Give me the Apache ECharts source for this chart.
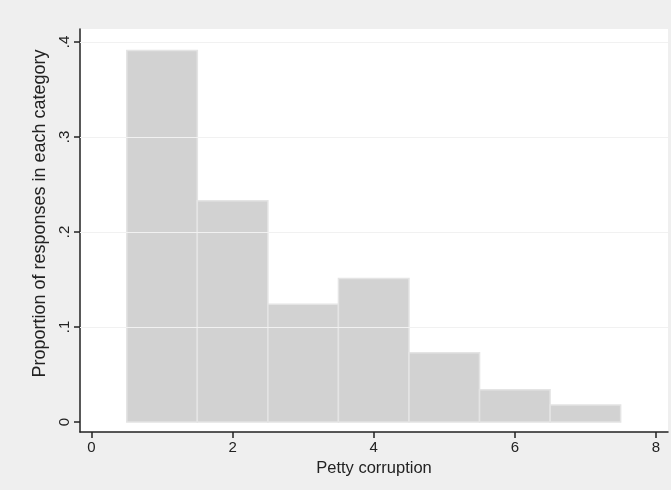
<!DOCTYPE html>
<html>
<head>
<meta charset="utf-8">
<script src="https://cdn.jsdelivr.net/npm/echarts@6/dist/echarts.min.js"></script>
<style>
  html, body { margin: 0; padding: 0; background: #efefef; }
  #main { width: 671px; height: 490px; }
</style>
</head>
<body>
<div id="main"></div>
<script>
// bins of the histogram (centre of each category) and their proportions
var categories = [1, 2, 3, 4, 5, 6, 7]
var proportions = [0.391, 0.233, 0.124, 0.151, 0.073, 0.034, 0.018]
var xTicks = [0, 2, 4, 6, 8]
var yTicks = [0, 0.1, 0.2, 0.3, 0.4]

var barData = categories.map(function (c, i) { return [c, proportions[i]] })

var chart = echarts.init(document.getElementById('main'))

var textColor = '#222'
var font = 'Liberation Sans, Arial, sans-serif'

chart.setOption({
  backgroundColor: '#efefef',
  animation: false,
  grid: {
    left: 80, right: 3, top: 29, bottom: 58,
    show: true, backgroundColor: '#ffffff', borderWidth: 0
  },
  xAxis: {
    type: 'value',
    min: -0.163, max: 8.171,
    name: 'Petty corruption',
    nameLocation: 'middle',
    nameGap: 28,
    nameTextStyle: { color: textColor, fontSize: 16.5, fontFamily: font },
    axisLine: { show: true, onZero: false, lineStyle: { color: '#222', width: 1.5 } },
    axisTick: { show: true, inside: false, length: 6, customValues: xTicks, lineStyle: { color: '#222', width: 1.5 } },
    axisLabel: { customValues: xTicks, color: textColor, fontSize: 15, fontFamily: font, margin: 8 },
    splitLine: { show: false }
  },
  yAxis: {
    type: 'value',
    min: -0.0105, max: 0.4137,
    name: 'Proportion of responses in each category',
    nameLocation: 'middle',
    nameGap: 30,
    // shift the title a little upwards, as in the original
    nameTextStyle: { color: textColor, fontSize: 18, fontFamily: font, padding: [0, 0, 0, 34] },
    axisLine: { show: true, onZero: false, lineStyle: { color: '#222', width: 1.5 } },
    axisTick: { show: true, inside: false, length: 6, customValues: yTicks, lineStyle: { color: '#222', width: 1.5 } },
    axisLabel: {
      customValues: yTicks, rotate: 90, color: textColor, fontSize: 15, fontFamily: font, margin: 8,
      formatter: function (v) { return v === 0 ? '0' : String(+v.toFixed(1)).replace(/^0/, '') }
    },
    splitLine: { show: false }
  },
  series: [{
    type: 'custom',
    data: barData,
    renderItem: function (params, api) {
      var x = api.value(0), y = api.value(1)
      var p0 = api.coord([x - 0.5, y])
      var p1 = api.coord([x + 0.5, 0])
      return {
        type: 'rect',
        shape: { x: p0[0], y: p0[1], width: p1[0] - p0[0], height: p1[1] - p0[1] },
        style: { fill: '#d2d2d2', stroke: '#e4e4e4', lineWidth: 1.5 }
      }
    },
    markLine: {
      silent: true,
      symbol: 'none',
      label: { show: false },
      lineStyle: { color: '#f1f1f1', type: 'solid', width: 1 },
      data: yTicks.slice(1).map(function (t) { return { yAxis: t } })
    },
    z: 2
  }]
})
</script>
</body>
</html>
